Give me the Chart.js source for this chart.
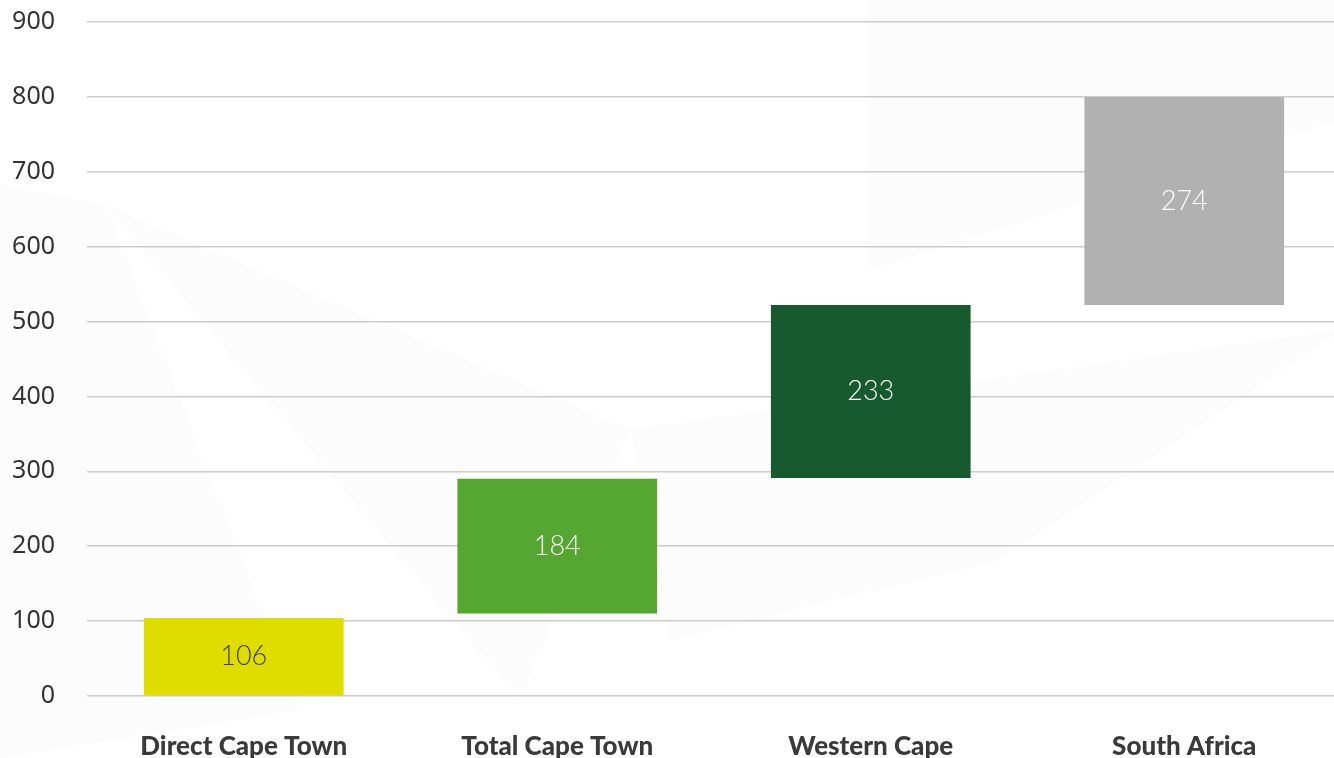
<!DOCTYPE html>
<html>
<head>
<meta charset="utf-8">
<script src="https://cdn.jsdelivr.net/npm/chart.js@4"></script>
<style>
  html, body { margin: 0; padding: 0; background: #fff; overflow: hidden; }
  #wrap { width: 1334px; height: 758px; overflow: hidden; }
</style>
</head>
<body>
<div id="wrap"><canvas id="myChart" width="1341" height="758"></canvas></div>
<script>
const categories = ['Direct Cape Town', 'Total Cape Town', 'Western Cape', 'South Africa']
const barStarts = [0, 110, 291, 522]
const barEnds = [104, 290, 522, 800]
const valueLabels = [106, 184, 233, 274]
const barColors = ['#dfdc00', '#56a632', '#165a2e', '#b1b1b1']
const labelColors = ['#444444', '#ffffff', '#ffffff', '#ffffff']

const canvas = document.getElementById('myChart')

// faint triangles in the background
const backdrop = {
  id: 'backdrop',
  beforeDraw(chart) {
    const { ctx } = chart
    ctx.save()
    ctx.fillStyle = '#fcfcfc'
    const shapes = [
      [[0, 185], [105, 205], [300, 710], [0, 758]],
      [[105, 205], [630, 430], [520, 700]],
      [[870, 0], [1341, 0], [1341, 120], [870, 270]],
      [[630, 430], [1341, 330], [1000, 560], [670, 640]],
    ]
    shapes.forEach((pts) => {
      ctx.beginPath()
      ctx.moveTo(pts[0][0], pts[0][1])
      pts.slice(1).forEach((p) => ctx.lineTo(p[0], p[1]))
      ctx.closePath()
      ctx.fill()
    })
    ctx.restore()
  },
}

const barValues = {
  id: 'barValues',
  afterDatasetsDraw(chart) {
    const { ctx } = chart
    const meta = chart.getDatasetMeta(0)
    ctx.save()
    ctx.font = '300 27px Lato'
    ctx.textAlign = 'center'
    ctx.textBaseline = 'middle'
    meta.data.forEach((bar, i) => {
      ctx.fillStyle = labelColors[i]
      ctx.fillText(String(valueLabels[i]), bar.x, (bar.y + bar.base) / 2)
    })
    ctx.restore()
  },
}

const data = {
  labels: categories,
  datasets: [
    {
      data: categories.map((c, i) => [barStarts[i], barEnds[i]]),
      backgroundColor: barColors,
      borderWidth: 0,
      barPercentage: 0.637,
      categoryPercentage: 1,
    },
  ],
}

const config = {
  type: 'bar',
  data: data,
  options: {
    responsive: false,
    animation: false,
    layout: { padding: { top: 22, right: 0, left: 0, bottom: 0 } },
    plugins: {
      legend: { display: false },
      tooltip: { enabled: false },
    },
    scales: {
      x: {
        grid: { display: false, drawTicks: false },
        border: { display: false },
        ticks: {
          color: '#3a3a3a',
          padding: 35,
          font: { family: 'Lato', size: 26, weight: '900' },
        },
        afterFit(scale) {
          scale.height = 62
          scale.paddingRight = 0
        },
      },
      y: {
        min: 0,
        max: 900,
        grid: { color: '#cccccc', lineWidth: 1.5, drawTicks: false },
        border: { display: false },
        ticks: {
          stepSize: 100,
          color: '#333333',
          padding: 32,
          font: { family: 'Noto Sans', size: 25 },
        },
        afterFit(scale) {
          scale.width = 87
          scale.paddingTop = 0
          scale.paddingBottom = 0
        },
      },
    },
  },
  plugins: [backdrop, barValues],
}

const myChart = new Chart(canvas, config)
</script>
</body>
</html>
